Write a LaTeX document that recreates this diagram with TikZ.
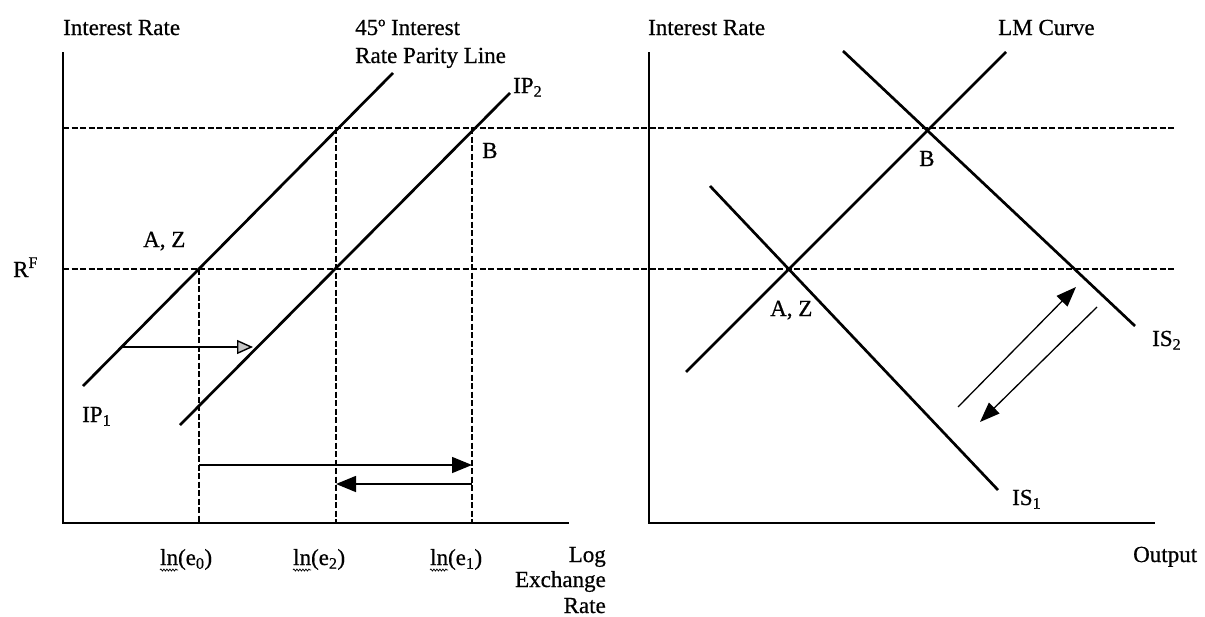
\documentclass[tikz,border=0pt]{standalone}
\usepackage{fontspec}
\setmainfont{Liberation Serif}
\newfontfamily\lblfont[FakeBold=0.6]{Liberation Serif}
\usetikzlibrary{arrows.meta,decorations.pathmorphing}
\begin{document}
\begin{tikzpicture}[x=1pt,y=-1pt,
  lbl/.style={font=\fontsize{23}{27}\lblfont, inner sep=0pt, anchor=base west},
  lble/.style={font=\fontsize{23}{27}\lblfont, inner sep=0pt, anchor=base east},
  curve/.style={line width=2.7pt},
  axis/.style={line width=1.7pt},
  guide/.style={line width=1.1pt, dash pattern=on 6pt off 2.5pt},
  shiftarrow/.style={line width=1.5pt, -{Triangle[length=20pt,width=16pt]}},
  smallarrow/.style={line width=1.4pt, -{Triangle[length=16pt,width=14pt,fill=gray!45]}},
  diagarrow/.style={line width=1.3pt, -{Triangle[length=20pt,width=15pt]}},
  wave/.style={line width=0.7pt, decorate, decoration={snake, amplitude=1pt, segment length=3pt}}]
\useasboundingbox (0,0) rectangle (1205,616);
% ---------- left panel coordinates ----------
\coordinate (LT) at (63,52);
\coordinate (LO) at (63,523);
\coordinate (LX) at (569,523);
\coordinate (IPas) at (83,386);
\coordinate (IPae) at (393,73);
\coordinate (IPbs) at (180,425);
\coordinate (IPbe) at (510,93);
\coordinate (AZ) at (199,269);
\coordinate (E2T) at (336,128);
\coordinate (E1T) at (472,128);
\coordinate (E0B) at (199,523);
\coordinate (E2B) at (336,523);
\coordinate (E1B) at (472,523);
\coordinate (TopL) at (63,128);
\coordinate (TopR) at (1175,128);
\coordinate (RFL) at (63,269);
\coordinate (RFR) at (1175,269);
\coordinate (SAs) at (123,347);
\coordinate (SAe) at (253,347);
\coordinate (A1s) at (199,465);
\coordinate (A1e) at (472,465);
\coordinate (A2s) at (472,484);
\coordinate (A2e) at (336,484);
% ---------- right panel coordinates ----------
\coordinate (RT) at (649,52);
\coordinate (RO) at (649,523);
\coordinate (RX) at (1155,523);
\coordinate (LMs) at (686,372);
\coordinate (LMe) at (1006,52);
\coordinate (ISas) at (710,186);
\coordinate (ISae) at (998,490);
\coordinate (ISbs) at (843,51);
\coordinate (ISbe) at (1135,326);
\coordinate (UAs) at (958,407);
\coordinate (UAe) at (1076,287);
\coordinate (DAs) at (1097,307);
\coordinate (DAe) at (980,422);
% ---------- guides ----------
\draw[guide] (TopL) -- (TopR);
\draw[guide] (RFL) -- (RFR);
\draw[guide] (AZ) -- (E0B);
\draw[guide] (E2T) -- (E2B);
\draw[guide] (E1T) -- (E1B);
% ---------- axes ----------
\draw[axis] (LT) -- (LO) -- (LX);
\draw[axis] (RT) -- (RO) -- (RX);
% ---------- curves ----------
\draw[curve] (IPas) -- (IPae);
\draw[curve] (IPbs) -- (IPbe);
\draw[curve] (LMs) -- (LMe);
\draw[curve] (ISas) -- (ISae);
\draw[curve] (ISbs) -- (ISbe);
% ---------- arrows ----------
\draw[smallarrow] (SAs) -- (SAe);
\draw[shiftarrow] (A1s) -- (A1e);
\draw[shiftarrow] (A2s) -- (A2e);
\draw[diagarrow] (UAs) -- (UAe);
\draw[diagarrow] (DAs) -- (DAe);
% ---------- labels left ----------
\node[lbl] (irL) at (63,35) {Interest Rate};
\node[lbl] (par1) at (355,35) {45º Interest};
\node[lbl] (par2) at (355,63) {Rate Parity Line};
\node[lbl] (ip2) at (513,93) {IP\textsubscript{2}};
\node[lbl] (bL) at (482,158) {B};
\node[lbl] (azL) at (143,247) {A, Z};
\node[lbl] (rf) at (13,277) {R\textsuperscript{F}};
\node[lbl] (ip1) at (82,422) {IP\textsubscript{1}};
\node[lbl] (le0) at (160,565) {ln(e\textsubscript{0})};
\node[lbl] (le2) at (293,565) {ln(e\textsubscript{2})};
\node[lbl] (le1) at (430,565) {ln(e\textsubscript{1})};
\draw[wave] (160,570) -- (178,570);
\draw[wave] (293,570) -- (311,570);
\draw[wave] (430,570) -- (448,570);
\node[lble] (lg1) at (606,562) {Log};
\node[lble] (lg2) at (606,587) {Exchange};
\node[lble] (lg3) at (606,613) {Rate};
% ---------- labels right ----------
\node[lbl] (irR) at (648,35) {Interest Rate};
\node[lbl] (lm) at (998,35) {LM Curve};
\node[lbl] (bR) at (919,166) {B};
\node[lbl] (azR) at (770,316) {A, Z};
\node[lbl] (is2) at (1152,346) {IS\textsubscript{2}};
\node[lbl] (is1) at (1012,505) {IS\textsubscript{1}};
\node[lbl] (out) at (1133,562) {Output};
\end{tikzpicture}
\end{document}
